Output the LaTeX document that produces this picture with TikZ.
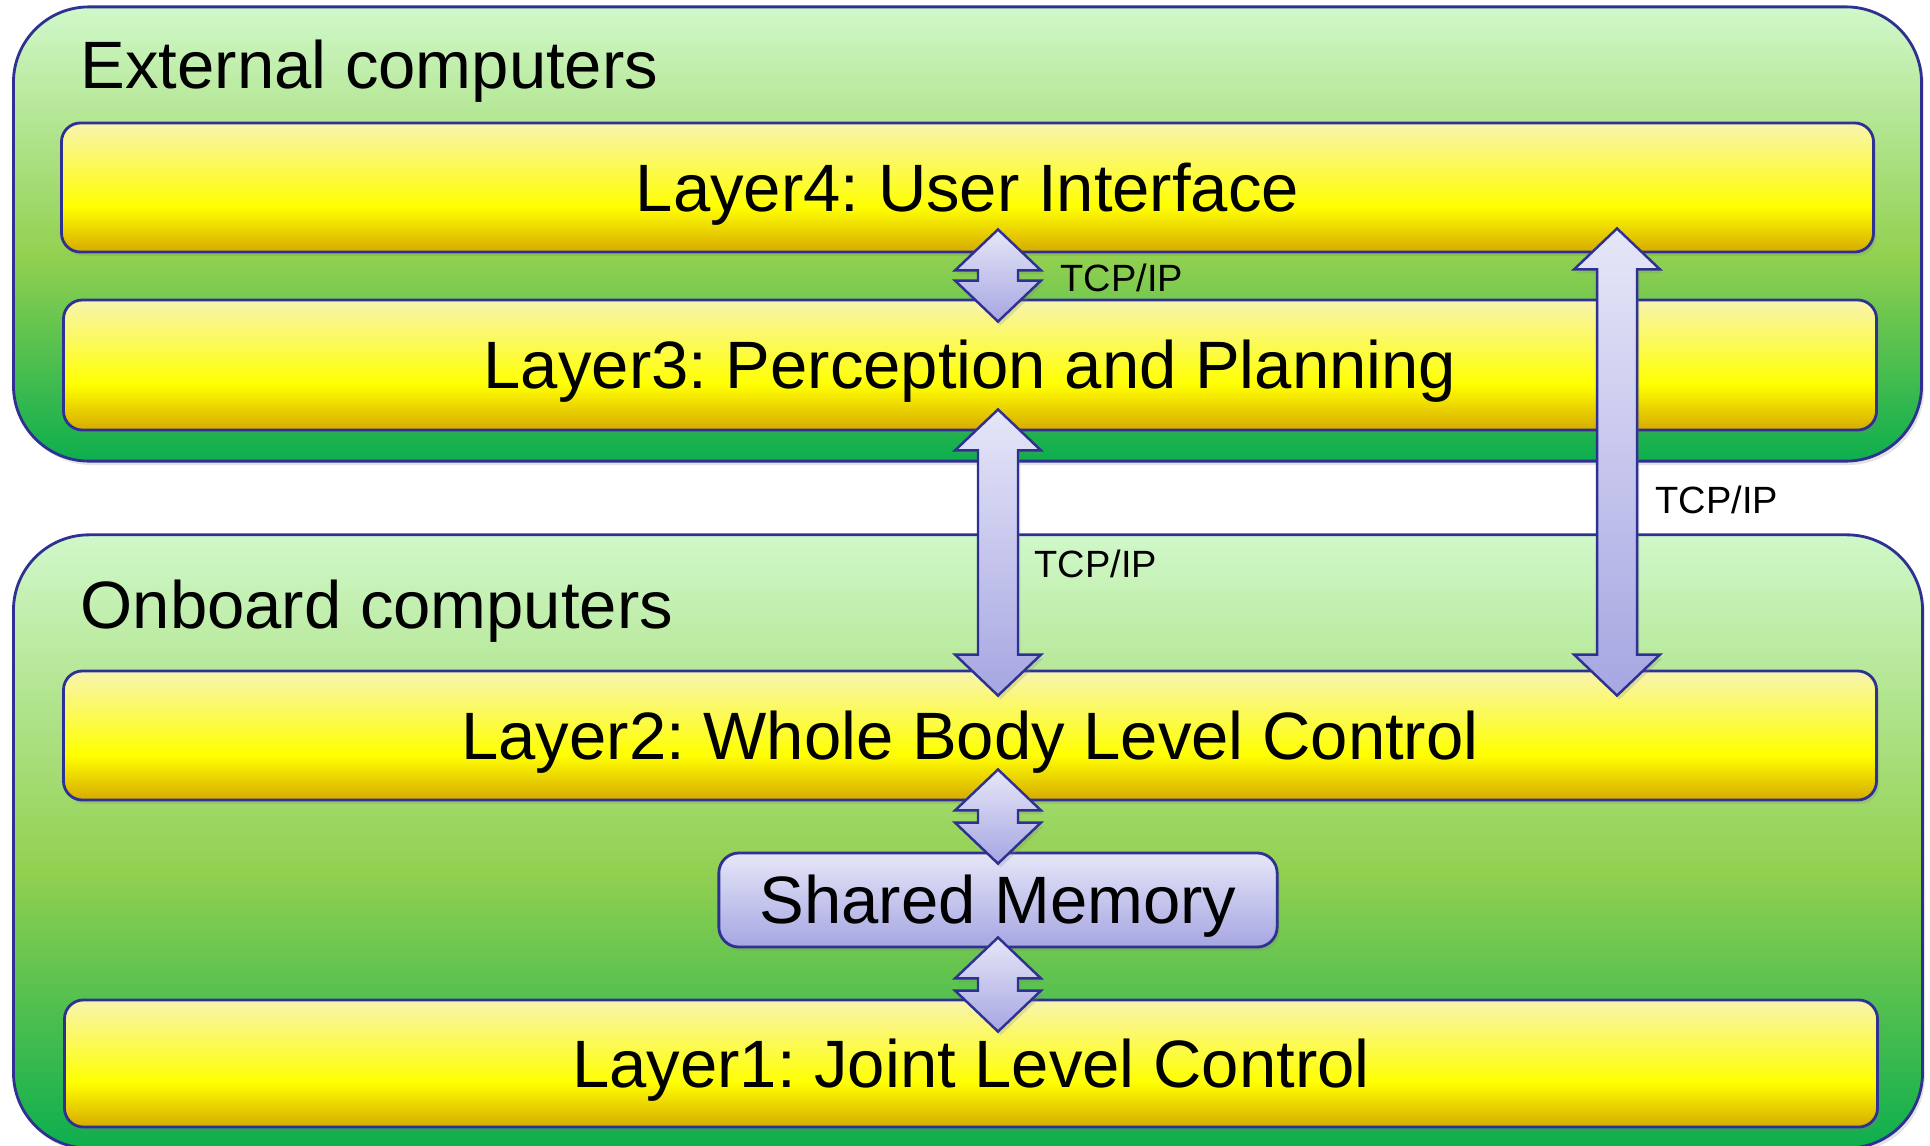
\documentclass[tikz,border=0pt]{standalone}
\usepackage{fontspec}
\setmainfont{Liberation Sans}
\usetikzlibrary{positioning, calc, shadows}
\frenchspacing

\definecolor{edgeblue}{HTML}{2E3192}
\definecolor{gdark}{HTML}{0DAE4E}
\definecolor{gmid}{HTML}{92D050}
\definecolor{glight}{HTML}{D0F8CA}
\definecolor{ydark}{HTML}{D6AA00}
\definecolor{ymid}{HTML}{FFFF00}
\definecolor{ylight}{HTML}{F8F4B0}
\definecolor{lavlight}{HTML}{E6E6F8}
\definecolor{lavdark}{HTML}{A6A6E2}

% shading stops: 25bp = bottom edge, 75bp = top edge
\pgfdeclareverticalshading{greenfill}{100bp}{color(0bp)=(gdark); color(25bp)=(gdark);
  color(47.5bp)=(gmid); color(75bp)=(glight); color(100bp)=(glight)}
\pgfdeclareverticalshading{yellowfill}{100bp}{color(0bp)=(ydark); color(25bp)=(ydark);
  color(42.5bp)=(ymid); color(75bp)=(ylight); color(100bp)=(ylight)}

\newcommand\bigfont{\fontsize{19.06pt}{22pt}\selectfont}
\newcommand\smallfont{\fontsize{10.8pt}{13pt}\selectfont}

\tikzset{
  softshadow/.style={drop shadow={opacity=0.22, shadow xshift=0.7pt, shadow yshift=-1.1pt}},
  container/.style={draw=edgeblue, line width=0.8pt, shade, shading=greenfill,
    rounded corners=21.5pt, inner sep=0pt, softshadow},
  layerbox/.style={draw=edgeblue, line width=0.8pt, shade, shading=yellowfill,
    rounded corners=5.4pt, minimum width=18.12cm, minimum height=1.29cm, inner sep=0pt,
    font=\bigfont, text height=13.6pt, text depth=0pt, softshadow},
  membox/.style={draw=edgeblue, line width=0.8pt, top color=lavlight, bottom color=lavdark,
    rounded corners=5.7pt, minimum width=5.58cm, minimum height=0.94cm, inner sep=0pt,
    font=\bigfont, text height=13.6pt, text depth=0pt, softshadow},
  grouptitle/.style={font=\bigfont, anchor=base west, inner sep=0pt},
  tcplabel/.style={font=\smallfont, anchor=base west, inner sep=0pt},
  % block double arrow between two tips on the same vertical
  updown/.style={draw=edgeblue, line width=0.7pt, top color=lavlight, bottom color=lavdark,
    softshadow,
    to path={-- ($(\tikztostart)+(43,41)$) -- ($(\tikztostart)+(20,41)$)
      -- ($(\tikztotarget)+(20,-41)$) -- ($(\tikztotarget)+(43,-41)$) -- (\tikztotarget)
      -- ($(\tikztotarget)+(-43,-41)$) -- ($(\tikztotarget)+(-20,-41)$)
      -- ($(\tikztostart)+(-20,41)$) -- ($(\tikztostart)+(-43,41)$) -- cycle}}
}

\begin{document}
\begin{tikzpicture}[x=0.01cm, y=-0.01cm]
  % one unit = one pixel, y axis points down
  \useasboundingbox (0,0) rectangle (1930,1145);
  \clip (0,0) rectangle (1930,1145);

  % Computer groups
  \node[container, minimum width=19.07cm, minimum height=4.54cm] (ext) at (967.5,234) {};
  \node[container, minimum width=19.08cm, minimum height=6.13cm] (onb) at (968,841.5) {};
  \node[grouptitle] (exttitle) at (80,88) {External computers};
  \node[grouptitle] (onbtitle) at (80,628) {Onboard computers};

  % Layers
  \node[layerbox, minimum width=18.11cm] (l4) at (967.5,187.5) {Layer4: User Interface};
  \node[layerbox, minimum height=1.30cm] (l3) at (970,365) {Layer3: Perception and Planning};
  \node[layerbox] (l2) at (970,735.5) {Layer2: Whole Body Level Control};
  \node[layerbox, minimum height=1.27cm] (l1) at (971,1063.5) {Layer1: Joint Level Control};
  \node[membox] (sm) at (998,900) {Shared Memory};

  % Arrow tips
  \coordinate (lane) at (1617,0);
  \coordinate (a4) at ($(l4.south -| sm)+(0,-24)$);
  \coordinate (a3) at ($(l3.north -| sm)+(0,23)$);
  \coordinate (b3) at ($(l3.south -| sm)+(0,-22)$);
  \coordinate (b2) at ($(l2.north -| sm)+(0,26)$);
  \coordinate (c4) at ($(l4.south -| lane)+(0,-25)$);
  \coordinate (c2) at ($(l2.north -| lane)+(0,26)$);
  \coordinate (d2) at ($(l2.south -| sm)+(0,-32)$);
  \coordinate (dm) at ($(sm.north)+(0,12)$);
  \coordinate (em) at ($(sm.south)+(0,-11)$);
  \coordinate (e1) at ($(l1.north -| sm)+(0,33)$);

  % Links
  \shade[updown] (a4) to (a3);
  \shade[updown] (b3) to (b2);
  \shade[updown] (c4) to (c2);
  \shade[updown] (d2) to (dm);
  \shade[updown] (em) to (e1);
  \node[tcplabel] (tcpa) at (1060,291) {TCP/IP};
  \node[tcplabel] (tcpb) at (1034,577) {TCP/IP};
  \node[tcplabel] (tcpc) at (1655,513) {TCP/IP};
\end{tikzpicture}
\end{document}
